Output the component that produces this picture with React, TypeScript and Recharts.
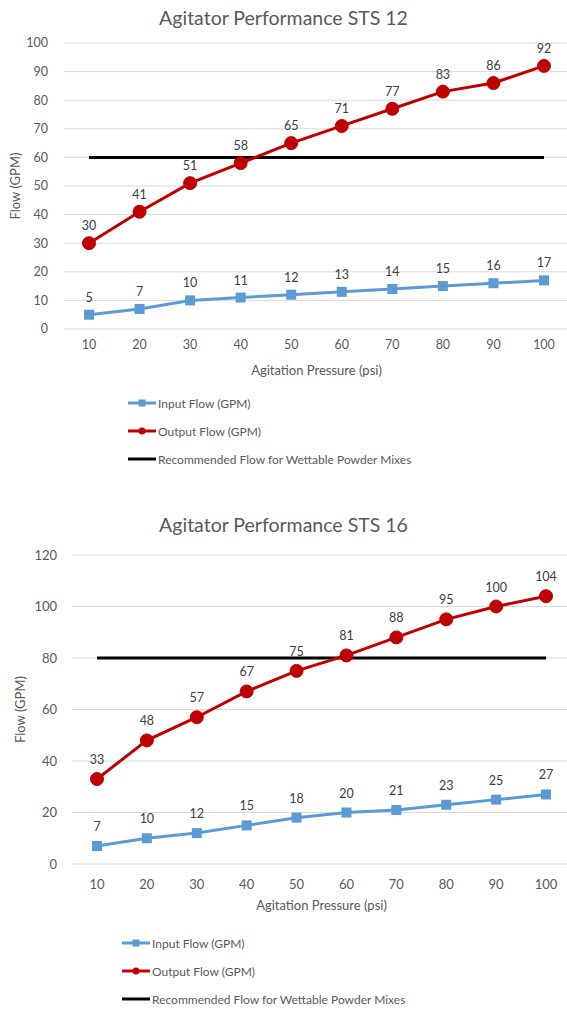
import React from 'react';
import { LineChart, Line, XAxis, YAxis, CartesianGrid, LabelList, Label } from 'recharts';

const pressures = [10, 20, 30, 40, 50, 60, 70, 80, 90, 100];

const sts12Input = [5, 7, 10, 11, 12, 13, 14, 15, 16, 17];
const sts12Output = [30, 41, 51, 58, 65, 71, 77, 83, 86, 92];
const sts12Recommended = 60;
const sts12Ticks = [0, 10, 20, 30, 40, 50, 60, 70, 80, 90, 100];

const sts16Input = [7, 10, 12, 15, 18, 20, 21, 23, 25, 27];
const sts16Output = [33, 48, 57, 67, 75, 81, 88, 95, 100, 104];
const sts16Recommended = 80;
const sts16Ticks = [0, 20, 40, 60, 80, 100, 120];

const BLUE = '#5B9BD5';
const RED = '#C00000';
const GRAY = '#595959';
const FONT = 'Lato, "Open Sans", sans-serif';

const legendItems = [
  { name: 'Input Flow (GPM)', color: BLUE, marker: 'square' },
  { name: 'Output Flow (GPM)', color: RED, marker: 'circle' },
  { name: 'Recommended Flow for Wettable Powder Mixes', color: '#000000', marker: 'none' },
];

function SquareDot(props: any) {
  const { cx, cy, index } = props;
  if (cx == null || cy == null) return <g key={`sq-${index}`} />;
  return <rect key={`sq-${index}`} x={cx - 5} y={cy - 5} width={10} height={10} fill={BLUE} />;
}

function LegendBox({ top, left }: { top: number; left: number }) {
  return (
    <div style={{ position: 'absolute', top, left, fontFamily: FONT, fontSize: 12, color: GRAY }}>
      {legendItems.map((it) => (
        <div key={it.name} style={{ height: 28, display: 'flex', alignItems: 'center', whiteSpace: 'nowrap' }}>
          <svg width={28} height={12} style={{ marginRight: 2 }}>
            <line x1={0} y1={6} x2={28} y2={6} stroke={it.color} strokeWidth={3} />
            {it.marker === 'square' && <rect x={10.5} y={2.5} width={7} height={7} fill={it.color} />}
            {it.marker === 'circle' && <circle cx={14} cy={6} r={3.5} fill={it.color} />}
          </svg>
          <span>{it.name}</span>
        </div>
      ))}
    </div>
  );
}

function YTitle({ viewBox, x }: any) {
  const cy = viewBox.y + viewBox.height / 2;
  return (
    <text x={x} y={cy} transform={`rotate(-90 ${x} ${cy})`} textAnchor="middle" dominantBaseline="central"
      fill={GRAY} fontSize={13} fontFamily={FONT}>
      Flow (GPM)
    </text>
  );
}

type PanelProps = {
  title: string;
  top: number;
  height: number;
  titleY: number;
  input: number[];
  output: number[];
  recommended: number;
  ticks: number[];
  margin: { top: number; right: number; bottom: number; left: number };
  yWidth: number;
  yTickMargin: number;
  xTickMargin: number;
  yTitleX: number;
  labelOffset: number;
  tickFont: number;
  legendPos: { top: number; left: number };
};

function Panel(p: PanelProps) {
  const data = pressures.map((psi, i) => ({
    psi,
    input: p.input[i],
    output: p.output[i],
    rec: p.recommended,
  }));
  const tickStyle = { fill: GRAY, fontSize: p.tickFont, fontFamily: FONT };
  return (
    <div style={{ position: 'absolute', left: 0, top: p.top, width: 567, height: p.height, overflow: 'hidden' }}>
      <div style={{ position: 'absolute', left: 0, width: 567, top: p.titleY - 12, textAlign: 'center',
        fontFamily: FONT, fontSize: 19.5, color: GRAY, lineHeight: '24px' }}>
        {p.title}
      </div>
      <LineChart width={567} height={p.height} data={data} margin={p.margin}>
        <CartesianGrid horizontal vertical={false} stroke="#D9D9D9" />
        <XAxis dataKey="psi" type="category" axisLine={false} tickLine={false} tickSize={0}
          tickMargin={p.xTickMargin} tick={tickStyle} height={50} padding={{ left: 25, right: 25 }} interval={0}>
          <Label value="Agitation Pressure (psi)" position="insideBottom" offset={4}
            style={{ fill: GRAY, fontSize: 13, fontFamily: FONT }} />
        </XAxis>
        <YAxis domain={[p.ticks[0], p.ticks[p.ticks.length - 1]]} ticks={p.ticks} axisLine={false} tickLine={false}
          tickSize={0} tickMargin={p.yTickMargin} tick={tickStyle} width={p.yWidth} interval={0}>
          <Label content={(lp: any) => <YTitle viewBox={lp.viewBox} x={p.yTitleX} />} />
        </YAxis>
        <Line dataKey="rec" stroke="#000000" strokeWidth={3} dot={false} activeDot={false} isAnimationActive={false} />
        <Line dataKey="input" stroke={BLUE} strokeWidth={3} dot={(dp: any) => <SquareDot {...dp} />}
          activeDot={false} isAnimationActive={false}>
          <LabelList dataKey="input" position="top" offset={p.labelOffset}
            style={{ fill: '#404040', fontSize: 12.5, fontFamily: FONT }} />
        </Line>
        <Line dataKey="output" stroke={RED} strokeWidth={3}
          dot={{ r: 6.5, fill: RED, stroke: RED, strokeWidth: 1 }} activeDot={false} isAnimationActive={false}>
          <LabelList dataKey="output" position="top" offset={p.labelOffset}
            style={{ fill: '#404040', fontSize: 12.5, fontFamily: FONT }} />
        </Line>
      </LineChart>
      <LegendBox top={p.legendPos.top} left={p.legendPos.left} />
    </div>
  );
}

export default function App() {
  return (
    <div style={{ position: 'absolute', left: 0, top: 0, width: 567, height: 1010, overflow: 'hidden', background: '#fff' }}>
      <Panel
        title="Agitator Performance STS 12"
        top={0}
        height={480}
        titleY={18}
        input={sts12Input}
        output={sts12Output}
        recommended={sts12Recommended}
        ticks={sts12Ticks}
        margin={{ top: 43, right: -2, bottom: 101, left: 0 }}
        yWidth={64}
        yTickMargin={16}
        xTickMargin={11}
        yTitleX={15}
        labelOffset={13}
        tickFont={12.5}
        legendPos={{ top: 389, left: 128 }}
      />
      <Panel
        title="Agitator Performance STS 16"
        top={480}
        height={530}
        titleY={45}
        input={sts16Input}
        output={sts16Output}
        recommended={sts16Recommended}
        ticks={sts16Ticks}
        margin={{ top: 75, right: -4, bottom: 96, left: 0 }}
        yWidth={72}
        yTickMargin={15}
        xTickMargin={16}
        yTitleX={20}
        labelOffset={15}
        tickFont={13}
        legendPos={{ top: 449, left: 122 }}
      />
    </div>
  );
}
